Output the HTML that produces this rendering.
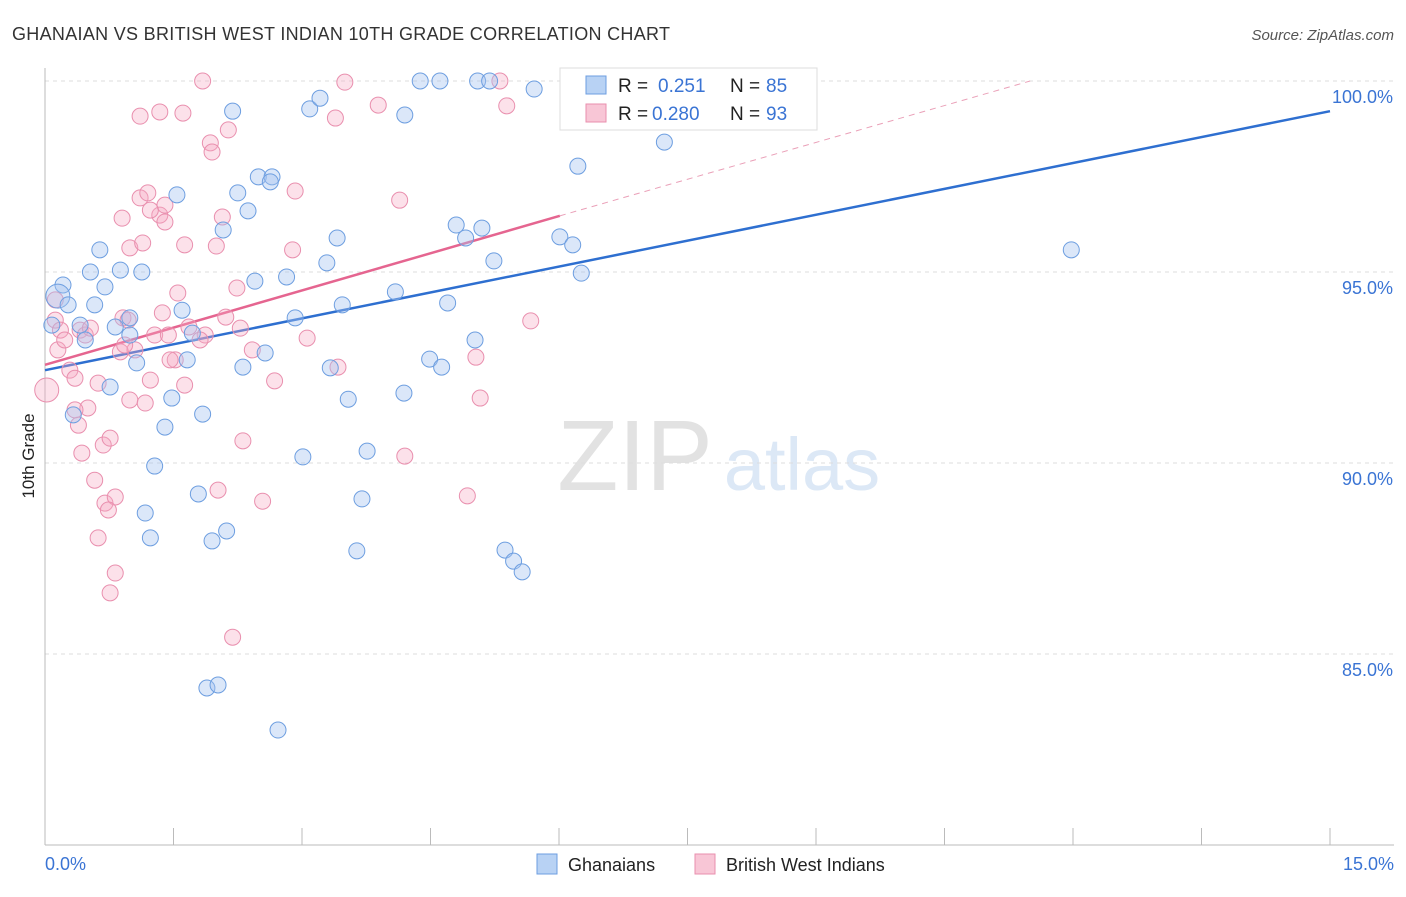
<!DOCTYPE html>
<html><head><meta charset="utf-8"><style>
body{margin:0;background:#fff;font-family:"Liberation Sans",sans-serif}
svg text{font-family:"Liberation Sans",sans-serif}
</style></head><body>
<svg width="1406" height="892" id="chart">
<text x="12" y="40" font-size="18" fill="#333" textLength="658">GHANAIAN VS BRITISH WEST INDIAN 10TH GRADE CORRELATION CHART</text>
<text x="1394" y="40" font-size="15" fill="#555" font-style="italic" text-anchor="end">Source: ZipAtlas.com</text>
<text x="34" y="456" font-size="17" fill="#222" transform="rotate(-90 34 456)" text-anchor="middle">10th Grade</text>
<g>
<text x="635" y="490" font-size="100" fill="#e2e2e2" font-family="Liberation Serif" text-anchor="middle">ZIP</text>
<text x="802" y="490" font-size="74" fill="#dce8f6" text-anchor="middle">atlas</text>
</g>
<g id="grid"></g><g id="axes"></g><g id="trends"></g><g id="pts"></g>
<g>
<rect x="560" y="68" width="257" height="62" fill="#fff" stroke="#ddd"/>
<rect x="586" y="76" width="20" height="18" fill="#b8d2f4" stroke="#6d9ee0"/>
<text x="618" y="92" font-size="19" fill="#222">R = </text><text x="658" y="92" font-size="19" fill="#3a74d4">0.251</text>
<text x="730" y="92" font-size="19" fill="#222">N = </text><text x="766" y="92" font-size="19" fill="#3a74d4">85</text>
<rect x="586" y="104" width="20" height="18" fill="#f8c6d6" stroke="#e98fae"/>
<text x="618" y="120" font-size="19" fill="#222">R = </text><text x="652" y="120" font-size="19" fill="#3a74d4">0.280</text>
<text x="730" y="120" font-size="19" fill="#222">N = </text><text x="766" y="120" font-size="19" fill="#3a74d4">93</text>
</g>
<g>
<rect x="537" y="854" width="20" height="20" fill="#b8d2f4" stroke="#6d9ee0"/>
<text x="568" y="871" font-size="18" fill="#222">Ghanaians</text>
<rect x="695" y="854" width="20" height="20" fill="#f8c6d6" stroke="#e98fae"/>
<text x="726" y="871" font-size="18" fill="#222">British West Indians</text>
</g>
</svg>
<script>
const yTicks=[100,95,90,85];
const yTickLabels=["100.0%","95.0%","90.0%","85.0%"];
const xTicks=[0,1.5,3,4.5,6,7.5,9,10.5,12,13.5,15];
const blueX=[0.21,0.15,0.27,0.08,0.41,0.47,0.64,0.53,0.70,0.58,0.88,1.13,0.82,0.99,0.99,1.07,0.76,0.33,1.40,1.48,1.28,1.17,1.23,1.54,1.60,1.72,1.66,1.84,1.79,1.95,2.12,1.89,2.02,2.72,2.19,2.25,2.37,2.08,2.49,2.65,2.63,2.45,2.82,2.92,2.57,2.31,3.01,3.09,3.21,3.41,3.29,3.47,3.33,3.54,3.76,3.70,3.64,4.09,4.19,4.20,4.38,4.61,5.05,5.19,4.80,4.91,5.10,4.70,4.49,4.63,5.02,5.24,5.71,6.01,6.16,6.22,6.26,5.37,5.47,5.57,7.23,11.98,6.95];
const blueY=[94.66,94.37,94.14,93.61,93.61,93.22,95.58,95.00,94.61,94.14,95.05,95.00,93.56,93.80,93.35,92.62,91.99,91.26,90.94,91.70,89.92,88.69,88.04,97.02,94.00,93.40,92.70,91.28,89.19,87.96,88.22,84.11,84.19,83.01,99.21,97.07,96.60,96.10,97.49,97.49,97.36,94.76,94.87,93.80,92.88,92.51,90.16,99.27,99.55,95.89,95.24,94.14,92.49,91.67,90.31,89.06,87.70,94.48,91.83,99.11,100,100,100,100,96.23,95.89,96.15,94.19,92.72,92.51,93.22,95.29,99.79,95.92,95.71,97.77,94.97,87.72,87.43,87.15,98.40,95.58,100];
const pinkX=[0.02,0.12,0.12,0.15,0.18,0.23,0.29,0.35,0.41,0.47,0.53,0.62,0.50,0.39,0.43,0.58,0.68,0.76,0.70,0.82,0.62,0.82,0.76,0.90,1.11,1.20,0.99,1.14,0.91,0.97,0.88,1.05,0.99,1.17,1.23,1.28,1.34,1.40,1.40,1.37,1.44,1.55,1.52,1.63,1.68,1.87,1.63,1.11,1.34,1.61,1.84,1.93,1.95,2.14,2.07,2.00,2.11,2.24,2.28,2.31,2.42,2.68,2.54,2.02,2.19,2.92,2.89,3.06,3.42,3.39,3.50,3.89,4.14,4.20,4.93,5.03,5.08,5.31,5.39,5.67,1.23,1.46,1.81,0.93,0.35,0.74];
const pinkY=[91.91,94.27,93.74,92.96,93.48,93.22,92.43,92.22,93.48,93.35,93.53,92.09,91.44,90.99,90.26,89.55,90.47,90.65,88.95,89.11,88.04,87.12,86.60,96.41,96.94,97.07,95.63,95.76,93.80,93.74,92.91,92.96,91.65,91.57,92.17,93.35,96.49,96.31,96.75,93.93,93.35,94.45,92.70,92.04,93.56,93.35,95.71,99.08,99.19,99.16,100,98.38,98.14,98.72,96.44,95.68,93.82,94.58,93.53,90.58,92.96,92.15,89.00,89.29,85.44,97.12,95.58,93.27,92.51,99.03,99.97,99.37,96.88,90.18,89.14,92.77,91.70,100,99.35,93.72,96.62,92.70,93.22,93.09,91.39,88.77];
const blueTrend=[[0,92.43],[15,99.21]];
const pinkTrend=[[0,92.57],[6.01,96.47]];
const pinkDash=[[6.01,96.47],[11.5,100.0]];
const X=v=>45+v/15*1285, Y=v=>81+(100-v)*38.2;
const NS="http://www.w3.org/2000/svg";
function mk(p,t,a){const e=document.createElementNS(NS,t);for(const k in a)e.setAttribute(k,a[k]);p.appendChild(e);return e;}
const grid=document.getElementById('grid'),axes=document.getElementById('axes'),tr=document.getElementById('trends'),pts=document.getElementById('pts');
yTicks.forEach((t,i)=>{
 const l=mk(grid,'line',{x1:45,x2:1394,y1:Y(t),y2:Y(t),stroke:'#ddd','stroke-dasharray':'4 4'});
 
 
 const tx=mk(axes,'text',{x:1393,y:Y(t)+22,'font-size':18,fill:'#3a74d4','text-anchor':'end'});
 tx.textContent=yTickLabels[i];
 
 
});
const ax=mk(axes,'line',{x1:45,x2:1394,y1:845,y2:845,stroke:'#bbb'});


const ay=mk(axes,'line',{x1:45,x2:45,y1:68,y2:845,stroke:'#bbb'});


xTicks.forEach(t=>{const l=mk(axes,'line',{x1:X(t),x2:X(t),y1:828,y2:845,stroke:'#bbb'});
 
 });
[[0,"0.0%","start",45],[15,"15.0%","end",1394]].forEach(d=>{const t=mk(axes,'text',{x:d[3],y:870,'font-size':18,fill:'#3a74d4','text-anchor':d[2]});t.textContent=d[1];
 
 });
function draw(xs,ys,fill,stroke,name,bigIdx){xs.forEach((x,i)=>{const big=(i===bigIdx);const c=mk(pts,'circle',{cx:X(x),cy:Y(ys[i]),r:big?12:8,fill:fill,stroke:stroke,'stroke-width':1});
 
 });}
draw(pinkX,pinkY,'rgba(245,170,195,0.35)','#e98fae','british-west-indian-point',0);
draw(blueX,blueY,'rgba(164,196,240,0.4)','#6d9ee0','ghanaian-point',1);
const b=mk(tr,'line',{x1:X(blueTrend[0][0]),y1:Y(blueTrend[0][1]),x2:X(blueTrend[1][0]),y2:Y(blueTrend[1][1]),stroke:'#2e6fd0','stroke-width':2.5});


const p=mk(tr,'line',{x1:X(pinkTrend[0][0]),y1:Y(pinkTrend[0][1]),x2:X(pinkTrend[1][0]),y2:Y(pinkTrend[1][1]),stroke:'#e56590','stroke-width':2.5});


const pd=mk(tr,'line',{x1:X(pinkDash[0][0]),y1:Y(pinkDash[0][1]),x2:X(pinkDash[1][0]),y2:Y(pinkDash[1][1]),stroke:'#eaa0b8','stroke-width':1,'stroke-dasharray':'6 5'});


</script>
</body></html>
